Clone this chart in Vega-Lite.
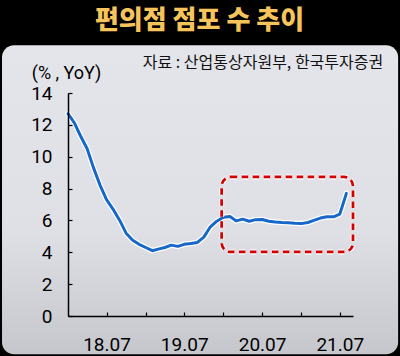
{
  "$schema": "https://vega.github.io/schema/vega-lite/v6.json",
  "width": 285,
  "height": 223,
  "autosize": {"type": "none"},
  "padding": {"left": 68, "top": 93, "right": 47, "bottom": 40},
  "background": "#000000",
  "title": {
    "text": "편의점 점포 수 추이",
    "font": "Noto Sans CJK KR",
    "fontSize": 26,
    "fontWeight": 900,
    "color": "#f7c45c",
    "anchor": "middle",
    "frame": "group",
    "dx": -11,
    "offset": 11
  },
  "config": {
    "view": {"stroke": null},
    "axis": {
      "labelFont": "Roboto",
      "labelFontSize": 19,
      "labelColor": "#000000",
      "labelOverlap": false,
      "labelSeparation": 0,
      "domainColor": "#000000",
      "domainWidth": 1.5,
      "tickColor": "#000000",
      "tickWidth": 1.2,
      "grid": false,
      "titleFont": "Roboto",
      "titleFontSize": 18,
      "titleFontWeight": "normal",
      "titleColor": "#000000"
    },
    "axisY": {"labelOverlap": false},
    "axisQuantitative": {"labelOverlap": false, "tickCount": 8}
  },
  "data": {"values": [
    {"date": "2018-01-01", "value": 12.7},
    {"date": "2018-02-01", "value": 12.1},
    {"date": "2018-03-01", "value": 11.3},
    {"date": "2018-04-01", "value": 10.5},
    {"date": "2018-05-01", "value": 9.3},
    {"date": "2018-06-01", "value": 8.2},
    {"date": "2018-07-01", "value": 7.3},
    {"date": "2018-08-01", "value": 6.7},
    {"date": "2018-09-01", "value": 6.0},
    {"date": "2018-10-01", "value": 5.2},
    {"date": "2018-11-01", "value": 4.75},
    {"date": "2018-12-01", "value": 4.5},
    {"date": "2019-01-01", "value": 4.3},
    {"date": "2019-02-01", "value": 4.1},
    {"date": "2019-03-01", "value": 4.2},
    {"date": "2019-04-01", "value": 4.3},
    {"date": "2019-05-01", "value": 4.45},
    {"date": "2019-06-01", "value": 4.37},
    {"date": "2019-07-01", "value": 4.5},
    {"date": "2019-08-01", "value": 4.55},
    {"date": "2019-09-01", "value": 4.62},
    {"date": "2019-10-01", "value": 4.95},
    {"date": "2019-11-01", "value": 5.6},
    {"date": "2019-12-01", "value": 5.95},
    {"date": "2020-01-01", "value": 6.2},
    {"date": "2020-02-01", "value": 6.25},
    {"date": "2020-03-01", "value": 5.97},
    {"date": "2020-04-01", "value": 6.08},
    {"date": "2020-05-01", "value": 5.95},
    {"date": "2020-06-01", "value": 6.05},
    {"date": "2020-07-01", "value": 6.06},
    {"date": "2020-08-01", "value": 5.95},
    {"date": "2020-09-01", "value": 5.9},
    {"date": "2020-10-01", "value": 5.87},
    {"date": "2020-11-01", "value": 5.85},
    {"date": "2020-12-01", "value": 5.82},
    {"date": "2021-01-01", "value": 5.8},
    {"date": "2021-02-01", "value": 5.87},
    {"date": "2021-03-01", "value": 6.0},
    {"date": "2021-04-01", "value": 6.15},
    {"date": "2021-05-01", "value": 6.23},
    {"date": "2021-06-01", "value": 6.23},
    {"date": "2021-07-01", "value": 6.4},
    {"date": "2021-08-01", "value": 7.7}
  ]},
  "layer": [
    {
      "data": {"values": [{"item": "panel"}]},
      "mark": {
        "type": "rect",
        "cornerRadius": 12,
        "fill": {
          "gradient": "linear",
          "x1": 0, "y1": 0, "x2": 0, "y2": 1,
          "stops": [
            {"offset": 0, "color": "#e4e5eb"},
            {"offset": 0.6, "color": "#dfe0e6"},
            {"offset": 1, "color": "#c6c7cc"}
          ]
        }
      },
      "encoding": {
        "x": {"datum": {"year": 2017, "month": 2, "date": 25, "utc": true}, "type": "temporal"},
        "x2": {"datum": {"year": 2022, "month": 4, "date": 1, "utc": true}},
        "y": {"datum": 17.0, "type": "quantitative"},
        "y2": {"datum": -2.4}
      }
    },
    {
      "data": {"values": [{"item": "source"}]},
      "mark": {"type": "text", "text": "자료 : 산업통상자원부, 한국투자증권", "font": "Noto Sans CJK KR", "fontSize": 16, "align": "right", "baseline": "middle", "color": "#111111"},
      "encoding": {
        "x": {"datum": {"year": 2022, "month": 1, "date": 21, "utc": true}, "type": "temporal"},
        "y": {"datum": 15.9, "type": "quantitative"}
      }
    },
    {
      "mark": {"type": "line", "color": "#ffffff", "strokeWidth": 5.5, "strokeJoin": "round", "strokeCap": "round"},
      "encoding": {
        "x": {"field": "date", "type": "temporal"},
        "y": {"field": "value", "type": "quantitative"}
      }
    },
    {
      "mark": {"type": "line", "color": "#1767c9", "strokeWidth": 3, "strokeJoin": "round", "strokeCap": "round"},
      "encoding": {
        "x": {"field": "date", "type": "temporal",
          "scale": {"type": "utc", "domain": [{"year": 2018, "month": 1, "date": 1, "utc": true}, {"year": 2021, "month": 9, "date": 1, "utc": true}]},
          "axis": {
            "title": null,
            "zindex": 2,
            "tickSize": -4,
            "values": [
              {"year": 2018, "month": 7, "date": 1, "utc": true},
              {"year": 2019, "month": 1, "date": 1, "utc": true},
              {"year": 2019, "month": 7, "date": 1, "utc": true},
              {"year": 2020, "month": 1, "date": 1, "utc": true},
              {"year": 2020, "month": 7, "date": 1, "utc": true},
              {"year": 2021, "month": 1, "date": 1, "utc": true},
              {"year": 2021, "month": 7, "date": 1, "utc": true}
            ],
            "labelExpr": "utcmonth(datum.value) == 6 ? utcFormat(datum.value, '%y.%m') : ''",
            "labelPadding": 23,
            "labelBaseline": "top",
            "labelFlush": false,
            "labelOverlap": false
          }
        },
        "y": {"field": "value", "type": "quantitative",
          "scale": {"domain": [0, 14], "nice": false, "zero": false},
          "axis": {
            "zindex": 2,
            "tickSize": -4,
            "values": [0, 2, 4, 6, 8, 10, 12, 14],
            "tickCount": 8,
            "title": "(% , YoY)",
            "titleAngle": 0,
            "titleAlign": "center",
            "titleBaseline": "middle",
            "titleX": -2,
            "titleY": -20,
            "labelPadding": 20,
            "labelFlush": false,
            "labelOverlap": false,
            "labelSeparation": 0,
            "labelBound": false
          }
        }
      }
    },
    {
      "data": {"values": [{"item": "highlight"}]},
      "mark": {"type": "rect", "fill": null, "stroke": "#ffffff", "strokeWidth": 5, "strokeDash": [6.5, 4.5], "cornerRadius": 9},
      "encoding": {
        "x": {"datum": {"year": 2019, "month": 12, "date": 24, "utc": true}, "type": "temporal"},
        "x2": {"datum": {"year": 2021, "month": 9, "date": 1, "utc": true}},
        "y": {"datum": 8.73, "type": "quantitative"},
        "y2": {"datum": 4.02}
      }
    },
    {
      "data": {"values": [{"item": "highlight"}]},
      "mark": {"type": "rect", "fill": null, "stroke": "#d40000", "strokeWidth": 2.8, "strokeDash": [6.5, 4.5], "cornerRadius": 9},
      "encoding": {
        "x": {"datum": {"year": 2019, "month": 12, "date": 24, "utc": true}, "type": "temporal"},
        "x2": {"datum": {"year": 2021, "month": 9, "date": 1, "utc": true}},
        "y": {"datum": 8.73, "type": "quantitative"},
        "y2": {"datum": 4.02}
      }
    }
  ]
}
